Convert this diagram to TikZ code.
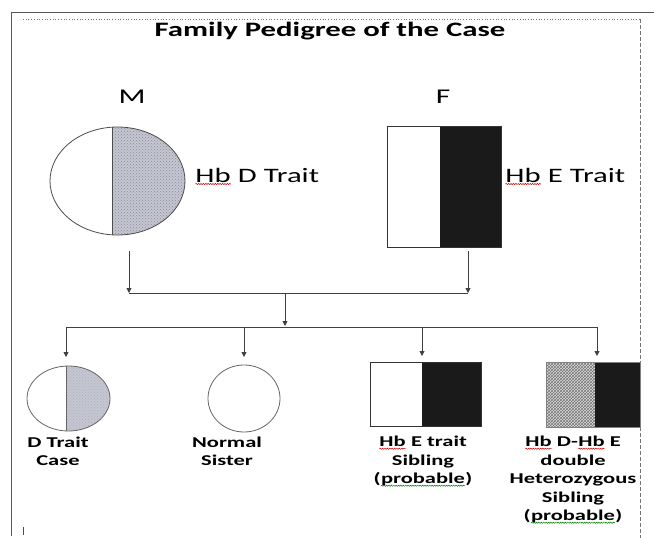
\documentclass[tikz,border=0pt]{standalone}
\usepackage{fontspec}
\usetikzlibrary{arrows.meta,patterns,shapes.geometric,decorations.pathmorphing}
\newfontfamily\calfont[FakeStretch=1.5]{Carlito}
\newcommand\wavyline[2]{\tikz[baseline=(w.base), x=1cm, y=1cm]{\node[inner sep=0pt, outer sep=0pt, anchor=base, draw=none] (w) {#2}; \draw[#1, line width=0.5pt, decorate, decoration={snake, amplitude=0.6pt, segment length=2.4pt}] ([yshift=-2pt]w.base west) -- ([yshift=-2pt]w.base east);}}
\newcommand\redwave[1]{\wavyline{red!80!black}{#1}}
\newcommand\greenwave[1]{\wavyline{green!50!black}{#1}}
\definecolor{shadeblue}{RGB}{196,198,212}
\definecolor{darkfill}{RGB}{26,26,26}
\begin{document}
\begin{tikzpicture}[x=1pt,y=-1pt,
  frameline/.style={draw=black!65, line width=0.9pt},
  link/.style={draw=black!75, line width=0.9pt},
  arr/.style={link, -{Triangle[width=5pt,length=5pt]}},
  outline/.style={draw=black!70, line width=0.8pt},
  kid/.style={font=\calfont\bfseries\fontsize{15}{18.5}\selectfont, align=center, inner sep=0pt, anchor=north},
  trait/.style={font=\calfont\fontsize{20.5}{24}\selectfont, inner sep=0pt, anchor=base west},
  parent/.style={font=\calfont\fontsize{21}{24}\selectfont, inner sep=0pt, anchor=base},
]
\useasboundingbox (0,0) rectangle (654,538);
\fill[white] (0,0) rectangle (654,538);

% page frame
\draw[frameline] (654,12) -- (11,12) -- (11,536);
\draw[draw=black!55, line width=0.7pt, dotted] (23,19) -- (640,19);
\draw[draw=black!55, line width=0.7pt, dash pattern=on 4pt off 2pt] (640,19) -- (640,538);
\draw[draw=black!70, line width=0.8pt] (23,527) -- (23,535);

% title and parent labels
\node[font=\calfont\bfseries\fontsize{20.5}{24}\selectfont, inner sep=0pt, anchor=base] (title) at (330,36) {Family Pedigree of the Case};
\node[parent] (mlab) at (132,103) {M};
\node[parent] (flab) at (443,103) {F};

% mother
\begin{scope}
  \clip (112,100) rectangle (200,260);
  \fill[shadeblue] (117.5,181) ellipse [x radius=67.5, y radius=54];
  \fill[pattern=crosshatch dots, pattern color=black!45] (117.5,181) ellipse [x radius=67.5, y radius=54];
\end{scope}
\node[ellipse, outline, minimum width=135pt, minimum height=108pt, inner sep=0pt] (mom) at (117.5,181) {};
\draw[outline] (112,127.2) -- (112,234.8);
\node[trait] (momtrait) at (195,182) {\redwave{Hb} D Trait};

% father
\fill[darkfill] (440,126) rectangle (501,247);
\node[rectangle, outline, draw=black!80, minimum width=114pt, minimum height=121pt, inner sep=0pt] (dad) at (444,186.5) {};
\node[trait] (dadtrait) at (505,182) {\redwave{Hb} E Trait};

% connectors
\coordinate (momout) at (129,251);
\coordinate (dadout) at (468,251);
\coordinate (j1L) at (129,293);
\coordinate (j1R) at (468,293);
\coordinate (j1C) at (285,293);
\coordinate (j2C) at (285,326);
\coordinate (j2L) at (66,327);
\coordinate (j2R) at (597,327);
\coordinate (j2b) at (244,327);
\coordinate (j2c) at (422,327);
\coordinate (k1in) at (66,357);
\coordinate (k2in) at (244,357);
\coordinate (k3in) at (422,356);
\coordinate (k4in) at (597,356);

\draw[arr] (momout) -- (j1L);
\draw[arr] (dadout) -- (j1R);
\draw[link] (j1L) -- (j1R);
\draw[arr] (j1C) -- (j2C);
\draw[link] (j2L) -- (j2R);
\draw[arr] (j2L) -- (k1in);
\draw[arr] (j2b) -- (k2in);
\draw[arr] (j2c) -- (k3in);
\draw[arr] (j2R) -- (k4in);

% child 1: D trait case
\begin{scope}
  \clip (66,360) rectangle (120,440);
  \fill[shadeblue] (68.5,398.5) ellipse [x radius=41.5, y radius=32.5];
  \fill[pattern=crosshatch dots, pattern color=black!30] (68.5,398.5) ellipse [x radius=41.5, y radius=32.5];
\end{scope}
\node[ellipse, outline, draw=black!60, minimum width=83pt, minimum height=65pt, inner sep=0pt] (kid1) at (68.5,398.5) {};
\draw[outline, draw=black!60] (66,366) -- (66,431);
\node[kid] (kid1lab) at (58,436.5) {D Trait\\Case};

% child 2: normal sister
\node[ellipse, outline, draw=black!60, minimum width=72pt, minimum height=67pt, inner sep=0pt] (kid2) at (244,398.5) {};
\node[kid] (kid2lab) at (227,436.5) {Normal\\Sister};

% child 3: Hb E trait sibling
\fill[darkfill] (422,362) rectangle (481,426);
\node[rectangle, outline, draw=black!80, minimum width=111pt, minimum height=64pt, inner sep=0pt] (kid3) at (425.5,394) {};
\node[kid] (kid3lab) at (423,436) {\redwave{Hb} E trait\\Sibling\\(\greenwave{probable})};

% child 4: double heterozygous sibling
\fill[gray!25] (546,362) rectangle (595,427);
\fill[pattern=crosshatch, pattern color=black!55] (546,362) rectangle (595,427);
\fill[darkfill] (595,362) rectangle (640,427);
\node[rectangle, draw=black!50, line width=0.6pt, minimum width=94pt, minimum height=65pt, inner sep=0pt] (kid4) at (593,394.5) {};
\node[kid] (kid4lab) at (573,436) {\redwave{Hb} D-\redwave{Hb} E\\double\\Heterozygous\\Sibling\\(\greenwave{probable})};
\end{tikzpicture}
\end{document}
